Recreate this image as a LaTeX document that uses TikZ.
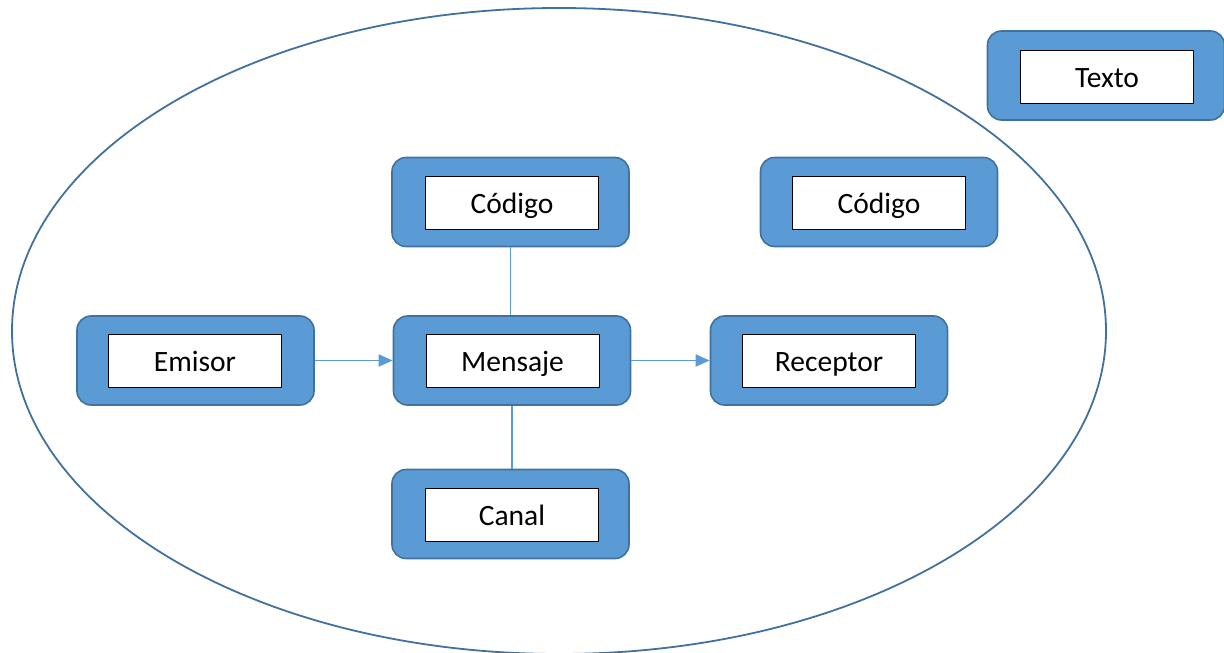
\documentclass[tikz,border=0pt]{standalone}
\usepackage{fontspec}
\setmainfont{Carlito}
\usetikzlibrary{arrows.meta}
\definecolor{boxfill}{HTML}{5B9BD5}
\definecolor{boxline}{HTML}{41719C}
\definecolor{linkc}{HTML}{5B9BD5}
\tikzset{
  outerbox/.style={draw=boxline, line width=1.6pt, fill=boxfill, rounded corners=14pt,
    minimum width=237pt, minimum height=89pt, inner sep=0pt},
  innerbox/.style={draw=black, line width=0.9pt, fill=white, minimum width=173pt,
    minimum height=53pt, inner sep=0pt, text height=22pt, text depth=1pt,
    font=\fontsize{29.5}{33}\selectfont},
  link/.style={draw=linkc, line width=1.1pt},
  arrowlink/.style={draw=linkc, line width=1.8pt, -{Triangle[length=14pt,width=12pt]}}
}
\begin{document}
\begin{tikzpicture}[x=1pt,y=-1pt]
\useasboundingbox (0,0) rectangle (1224,653);
\begin{scope}
\clip (0,0) rectangle (1224,653);
\draw[boxline, line width=1.8pt] (559,331) ellipse [x radius=547, y radius=323];
\end{scope}
\node[outerbox] (tx) at (1106,75.5) {};
\node[innerbox] (txi) at (1107,76.5) {Texto};
\node[outerbox] (cr) at (879,202) {};
\node[innerbox] (cri) at (879,202.5) {Código};
\node[outerbox] (cc) at (510.5,202) {};
\node[innerbox] (cci) at (512,202.5) {Código};
\node[outerbox] (em) at (195.5,360.5) {};
\node[innerbox] (emi) at (195,360.5) {Emisor};
\node[outerbox] (me) at (512,360.5) {};
\node[innerbox] (mei) at (512.5,360.5) {Mensaje};
\node[outerbox] (re) at (829,360.5) {};
\node[innerbox] (rei) at (829,360.5) {Receptor};
\node[outerbox] (ca) at (510.5,514) {};
\node[innerbox] (cai) at (512,514.5) {Canal};
\draw[link] (cc.south) -- (cc.south |- me.north);
\draw[link] (me.south) -- (me.south |- ca.north);
\draw[arrowlink] (em.east) -- (me.west);
\draw[arrowlink] (me.east) -- (re.west);
\end{tikzpicture}
\end{document}
